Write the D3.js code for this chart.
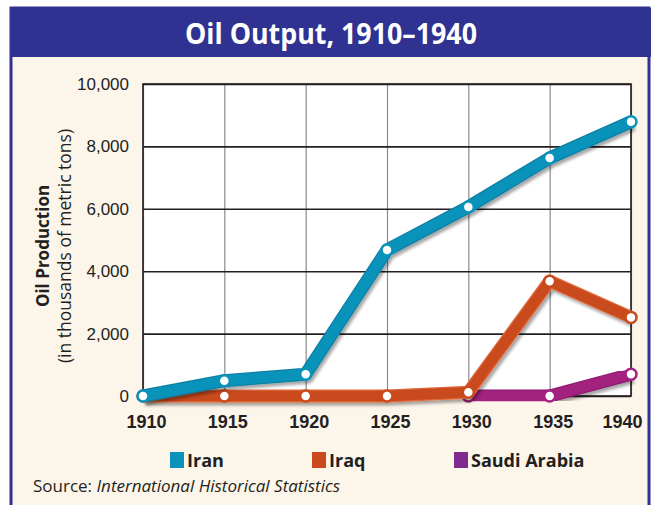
<!DOCTYPE html>
<html>
<head>
<meta charset="utf-8">
<script src="https://cdn.jsdelivr.net/npm/d3@7"></script>
<style>
  html, body { margin: 0; padding: 0; background: #fff; }
  svg { display: block; font-family: "Open Sans", "Noto Sans", sans-serif; }
</style>
</head>
<body>
<svg id="chart" width="655" height="505"></svg>
<script>
// values (thousands of metric tons)
const years = [1910, 1915, 1920, 1925, 1930, 1935, 1940];
const iran = [0, 490, 700, 4680, 6060, 7630, 8790];
const iraq = [0, 0, 0, 0, 120, 3680, 2520];
const saudi = [null, null, null, null, 0, 0, 700];
const yTicks = [0, 2000, 4000, 6000, 8000, 10000];

const series = [
  { name: 'Iran', values: iran, color: '#0993bb', edge: '#0b7fa3', swatch: '#0993bb' },
  { name: 'Iraq', values: iraq, color: '#c94a1c', edge: '#e0693a', swatch: '#c94a1c' },
  { name: 'Saudi Arabia', values: saudi, color: '#a3227f', edge: '#8e1c70', swatch: '#7e2a8e' },
];

const W = 655, H = 505;
const plot = { left: 143, right: 631, top: 84, bottom: 396 };

const svg = d3.select('#chart');

// drop shadow for the lines
const defs = svg.append('defs');
defs.append('filter')
  .attr('id', 'shadow')
  .attr('x', '-10%').attr('y', '-10%').attr('width', '120%').attr('height', '130%')
  .append('feDropShadow')
  .attr('dx', 2).attr('dy', 3).attr('stdDeviation', 1.8)
  .attr('flood-color', '#000').attr('flood-opacity', 0.35);

// frame
svg.append('rect')
  .attr('x', 11).attr('y', 8).attr('width', 638).attr('height', H)
  .attr('fill', '#fcf5ea').attr('stroke', '#2f3291').attr('stroke-width', 3);
svg.append('rect')
  .attr('x', 10).attr('y', 8).attr('width', 641).attr('height', 49)
  .attr('fill', '#2f3291');
svg.append('text')
  .attr('x', 331).attr('y', 44)
  .attr('text-anchor', 'middle')
  .attr('fill', '#fff')
  .attr('font-size', 28).attr('font-weight', 700)
  .attr('textLength', 292).attr('lengthAdjust', 'spacingAndGlyphs')
  .text('Oil Output, 1910\u20131940');

const x = d3.scaleLinear().domain([1910, 1940]).range([plot.left, plot.right]);
const y = d3.scaleLinear().domain([0, 10000]).range([plot.bottom, plot.top]);

// plot background
svg.append('rect')
  .attr('x', plot.left).attr('y', plot.top)
  .attr('width', plot.right - plot.left).attr('height', plot.bottom - plot.top)
  .attr('fill', '#fff');

// vertical grid + year labels
const xAxis = svg.append('g')
  .attr('transform', `translate(0,${plot.bottom})`)
  .call(d3.axisBottom(x).tickValues(years).tickFormat(d3.format('d'))
    .tickSize(-(plot.bottom - plot.top)).tickPadding(19));
xAxis.select('.domain').remove();
xAxis.selectAll('line').attr('stroke', '#8a8a8a').attr('stroke-width', 1.2);
xAxis.selectAll('text')
  .attr('font-size', 18).attr('font-weight', 700)
  .attr('fill', '#231f20').attr('font-family', null)
  .attr('x', d => d === 1940 ? -9 : 3);

// horizontal grid + value labels
const yAxis = svg.append('g')
  .attr('transform', `translate(${plot.left},0)`)
  .call(d3.axisLeft(y).tickValues(yTicks).tickFormat(d3.format(','))
    .tickSize(-(plot.right - plot.left)).tickPadding(14));
yAxis.select('.domain').remove();
yAxis.selectAll('line').attr('stroke', '#231f20').attr('stroke-width', 1.6);
yAxis.selectAll('text')
  .attr('font-size', 17).attr('fill', '#231f20').attr('font-family', null);

// plot border
svg.append('rect')
  .attr('x', plot.left).attr('y', plot.top)
  .attr('width', plot.right - plot.left).attr('height', plot.bottom - plot.top)
  .attr('fill', 'none').attr('stroke', '#231f20').attr('stroke-width', 1.6);

// axis title
const midY = (plot.top + plot.bottom) / 2 + 6;
svg.append('text')
  .attr('transform', `translate(49,${midY}) rotate(-90)`)
  .attr('text-anchor', 'middle')
  .attr('font-size', 17).attr('font-weight', 700).attr('fill', '#231f20')
  .text('Oil Production');
svg.append('text')
  .attr('transform', `translate(71,${midY}) rotate(-90)`)
  .attr('text-anchor', 'middle')
  .attr('font-size', 17.5).attr('fill', '#231f20')
  .text('(in thousands of metric tons)');

// lines, drawn back to front so Iran ends on top
const line = d3.line()
  .defined(d => d.v !== null)
  .x(d => x(d.year))
  .y(d => y(d.v));

const drawOrder = series.slice().reverse();
const lines = svg.append('g');
drawOrder.forEach(s => {
  const pts = years.map((yr, i) => ({ year: yr, v: s.values[i] }));
  const g = lines.append('g');
  g.append('path')
    .datum(pts)
    .attr('d', line)
    .attr('fill', 'none')
    .attr('stroke', s.edge)
    .attr('stroke-width', 13)
    .attr('stroke-linejoin', 'round')
    .attr('filter', 'url(#shadow)');
  g.append('path')
    .datum(pts)
    .attr('d', line)
    .attr('fill', 'none')
    .attr('stroke', s.color)
    .attr('stroke-width', 10.5)
    .attr('stroke-linejoin', 'round');
  g.selectAll('circle')
    .data(pts.filter(d => d.v !== null))
    .join('circle')
    .attr('cx', d => x(d.year))
    .attr('cy', d => y(d.v))
    .attr('r', 5.5)
    .attr('fill', '#fff')
    .attr('stroke', s.color)
    .attr('stroke-width', 2.5);
});

// legend
const legend = svg.append('g')
  .selectAll('g')
  .data(series)
  .join('g')
  .attr('transform', (d, i) => `translate(${170 + i * 142},452)`);
legend.append('rect')
  .attr('width', 14).attr('height', 16)
  .attr('fill', d => d.swatch);
legend.append('text')
  .attr('x', 17).attr('y', 15)
  .attr('font-size', 18).attr('font-weight', 700).attr('fill', '#231f20')
  .text(d => d.name);

// source line
const src = svg.append('text')
  .attr('x', 33).attr('y', 492)
  .attr('font-size', 17).attr('fill', '#231f20');
src.append('tspan').text('Source: ');
src.append('tspan').attr('font-style', 'italic').text('International Historical Statistics');
</script>
</body>
</html>
